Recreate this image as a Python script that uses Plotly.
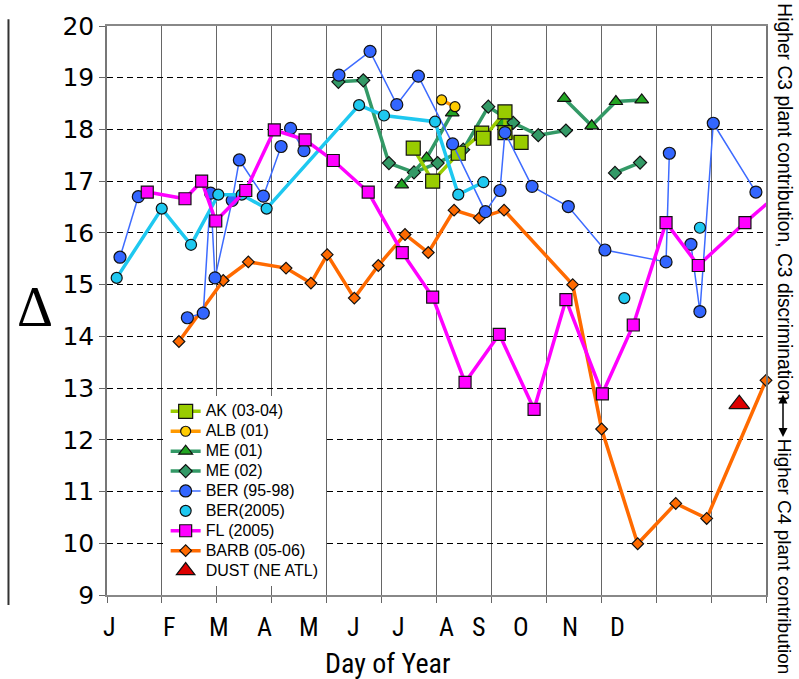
import plotly.graph_objects as go

# ---- data: day of year (12 equal monthly divisions over 0-360) and Δ ----
AK_DAY = [167.3, 177.9, 191.9, 204.7, 205.6, 217.4, 217.4, 226.2]
AK_VAL = [17.64, 17.00, 17.54, 17.93, 17.83, 18.34, 17.94, 17.75]

ALB_DAY = [182.8, 190.1]
ALB_VAL = [18.57, 18.44]

ME01_DAY = [161.0, 174.6, 188.6, None, 216.2, None, 249.8, 264.8, 278.0, 292.1]
ME01_VAL = [16.93, 17.45, 18.32, None, 18.13, None, 18.60, 18.07, 18.54, 18.57]

ME02_DAY = [126.4, 140.0, 154.0, 167.7, 180.6, 194.6, 208.3, 221.9, 235.6, 250.7, None, 277.5, 291.2]
ME02_VAL = [18.92, 18.95, 17.35, 17.17, 17.35, 17.61, 18.44, 18.13, 17.89, 17.98, None, 17.16, 17.36]

BER_DAY = [7.1, 17.1, None,
           43.9, 52.6, 56.6, 59.0, 68.4, 72.3, 85.4, 95.1, None,
           100.3, 107.6, None,
           126.7, 143.7, 158.3, 170.1, 188.8, 206.7, 214.7, 217.4, 232.2, 252.0, 272.0, 305.4, 307.2, None,
           319.0, 323.9, 331.2, 354.5]
BER_VAL = [15.53, 16.70, None,
           14.36, 14.45, 16.77, 15.13, 16.63, 17.41, 16.71, 17.67, None,
           18.02, 17.59, None,
           19.05, 19.51, 18.48, 19.03, 17.72, 16.41, 16.82, 17.94, 16.90, 16.51, 15.67, 15.44, 17.54, None,
           15.78, 14.48, 18.12, 16.79]

BER05_DAY = [5.3, 29.9, 45.9, 60.8, 73.6, 87.2, 137.7, 151.3, 179.2, 191.9, 205.6, None, 282.6, None, 323.9]
BER05_VAL = [15.13, 16.47, 15.77, 16.74, 16.74, 16.47, 18.47, 18.27, 18.15, 16.74, 16.98, None, 14.74, None, 16.10]

FL_DAY = [22.0, 42.6, 51.7, 59.4, 75.8, 91.4, 108.2, 123.6, 142.7, 161.3, 177.9, 195.6,
          214.3, 233.3, 250.7, 270.6, 287.5, 305.4, 323.0, 348.5, 360.4]
FL_VAL = [16.79, 16.66, 17.00, 16.23, 16.82, 17.99, 17.80, 17.40, 16.79, 15.62, 14.76, 13.11,
          14.04, 12.59, 14.71, 12.89, 14.22, 16.20, 15.37, 16.20, 16.56]

BARB_DAY = [39.3, 63.5, 77.2, 97.8, 111.4, 120.3, 135.1, 148.2, 162.8, 175.5, 189.6, 203.4,
            216.9, 254.4, 270.2, 289.9, 310.7, 327.6, 360.0]
BARB_VAL = [13.90, 15.08, 15.44, 15.32, 15.03, 15.58, 14.74, 15.37, 15.97, 15.62, 16.44, 16.29,
            16.44, 15.00, 12.21, 9.99, 10.77, 10.48, 13.15]

DUST_DAY = [345.4]
DUST_VAL = [12.69]

MONTHS = ["J", "F", "M", "A", "M", "J", "J", "A", "S", "O", "N", "D"]
MONTH_POS = [1.6, 34.4, 61.2, 85.8, 110.4, 134.4, 159.0, 185.2, 202.7, 226.2, 253.0, 278.7]
Y_TICKS = list(range(9, 21))

SANS = "Liberation Sans, Arial, sans-serif"
WIDE = "DejaVu Sans, Verdana, sans-serif"
NARROW = "Liberation Sans Narrow, Roboto Condensed, Roboto, sans-serif"

fig = go.Figure()


def label(text):
    # legend entries: larger glyphs on a compact row pitch
    return f'<span style="font-size:16px">{text}</span>'


def series(x, y, name, rank, line=None, marker=None, mode="lines+markers", showlegend=True):
    fig.add_trace(go.Scatter(
        x=x, y=y, name=label(name), mode=mode, legendrank=rank, showlegend=showlegend,
        line=line or {}, marker=marker or {}, connectgaps=False, cliponaxis=False,
        hovertext=name,
    ))


OUT = dict(color="#111", width=1.2)

series(BARB_DAY, BARB_VAL, "BARB (05-06)", 8,
       line=dict(color="#ff6a00", width=3.5),
       marker=dict(symbol="diamond", size=9, color="#ff6a00", line=OUT))
series(ME02_DAY, ME02_VAL, "ME (02)", 4,
       line=dict(color="#339966", width=3.5),
       marker=dict(symbol="diamond", size=10, color="#339966", line=OUT))
series(ME01_DAY, ME01_VAL, "ME (01)", 3,
       line=dict(color="#339966", width=3.5),
       marker=dict(symbol="triangle-up", size=12, color="#22a522", line=OUT))
series(AK_DAY, AK_VAL, "AK (03-04)", 1,
       line=dict(color="#99cc00", width=3.5),
       marker=dict(symbol="square", size=14, color="#99cc00", line=OUT))
series(ALB_DAY, ALB_VAL, "ALB (01)", 2,
       line=dict(color="#ff9900", width=3.5),
       marker=dict(symbol="circle", size=10, color="#ffcc00", line=OUT))
series(BER_DAY, BER_VAL, "BER (95-98)", 5,
       line=dict(color="#3d6bff", width=1.5),
       marker=dict(symbol="circle", size=12, color="#3366ff", line=OUT))
# BER(2005): connecting line drawn separately so the legend shows the marker only
series(BER05_DAY, BER05_VAL, "BER(2005) line", 99,
       line=dict(color="#1ec8f0", width=3.5), mode="lines", showlegend=False)
series(BER05_DAY, BER05_VAL, "BER(2005)", 6, mode="markers",
       marker=dict(symbol="circle", size=11, color="#1ec8f0", line=OUT))
series(FL_DAY, FL_VAL, "FL (2005)", 7,
       line=dict(color="#ff00ff", width=3.5),
       marker=dict(symbol="square", size=12, color="#ff00ff", line=OUT))
series(DUST_DAY, DUST_VAL, "DUST (NE ATL)", 9, mode="markers",
       marker=dict(symbol="triangle-up", size=18, color="#dd0000", line=OUT))

fig.update_xaxes(
    range=[0, 360], tickvals=list(range(0, 361, 30)), ticktext=[""] * 13,
    showgrid=True, gridcolor="#666", gridwidth=1.3,
    showline=True, linecolor="#888", linewidth=2, mirror=True,
    ticks="outside", ticklen=6, tickcolor="#666", zeroline=False,
)
fig.update_yaxes(
    range=[9, 20], tickvals=Y_TICKS,
    showgrid=True, gridcolor="#000", gridwidth=1.3, griddash="6px,4px",
    showline=True, linecolor="#777", linewidth=1.5, mirror=True,
    ticks="outside", ticklen=6, tickcolor="#666", zeroline=False,
    tickfont=dict(family=WIDE, size=25, color="#000"),
)

ann = []
for lab, pos in zip(MONTHS, MONTH_POS):
    ann.append(dict(x=pos, y=0, xref="x", yref="paper", yshift=-32, text=lab,
                    showarrow=False, xanchor="center", yanchor="middle",
                    font=dict(family=NARROW, size=26, color="#000")))
ann.append(dict(x=0.4264, y=0, xref="paper", yref="paper", yshift=-68, text="Day of Year",
                showarrow=False, xanchor="center", yanchor="middle",
                font=dict(family=NARROW, size=28, color="#000")))
ann.append(dict(x=-0.11, y=0.506, xref="paper", yref="paper", text="Δ",
                showarrow=False, xanchor="center", yanchor="middle",
                font=dict(family="Liberation Serif, Times New Roman, serif", size=56, color="#000")))
ann.append(dict(x=1.028, y=0.6895, xref="paper", yref="paper", textangle=90,
                text="Higher C3 plant contribution, C3 discrimination",
                showarrow=False, xanchor="center", yanchor="middle",
                font=dict(family=SANS, size=19.3, color="#000")))
ann.append(dict(x=1.028, y=0.0663, xref="paper", yref="paper", textangle=90,
                text="Higher C4 plant contribution",
                showarrow=False, xanchor="center", yanchor="middle",
                font=dict(family=SANS, size=19, color="#000")))
ann.append(dict(x=1.0258, y=0.2775, xref="paper", yref="paper", ax=0, ay=-44,
                axref="pixel", ayref="pixel", text="", showarrow=True,
                arrowhead=2, startarrowhead=2, arrowside="end+start",
                arrowsize=1.2, arrowwidth=1.5, arrowcolor="#000"))

fig.update_layout(
    width=799, height=679,
    margin=dict(l=107, r=33, t=22, b=84),
    paper_bgcolor="white", plot_bgcolor="white",
    annotations=ann,
    shapes=[
        dict(type="line", xref="paper", yref="paper", x0=-0.1495, x1=-0.1495,
             y0=-0.0175, y1=1.012, line=dict(color="#333", width=2)),
    ],
    legend=dict(
        x=0.089, y=0.349, xanchor="left", yanchor="top",
        bgcolor="white", borderwidth=0,
        font=dict(family=SANS, size=13, color="#000"),
        tracegroupgap=0, itemwidth=30,
    ),
)

fig.write_html("out.html")
